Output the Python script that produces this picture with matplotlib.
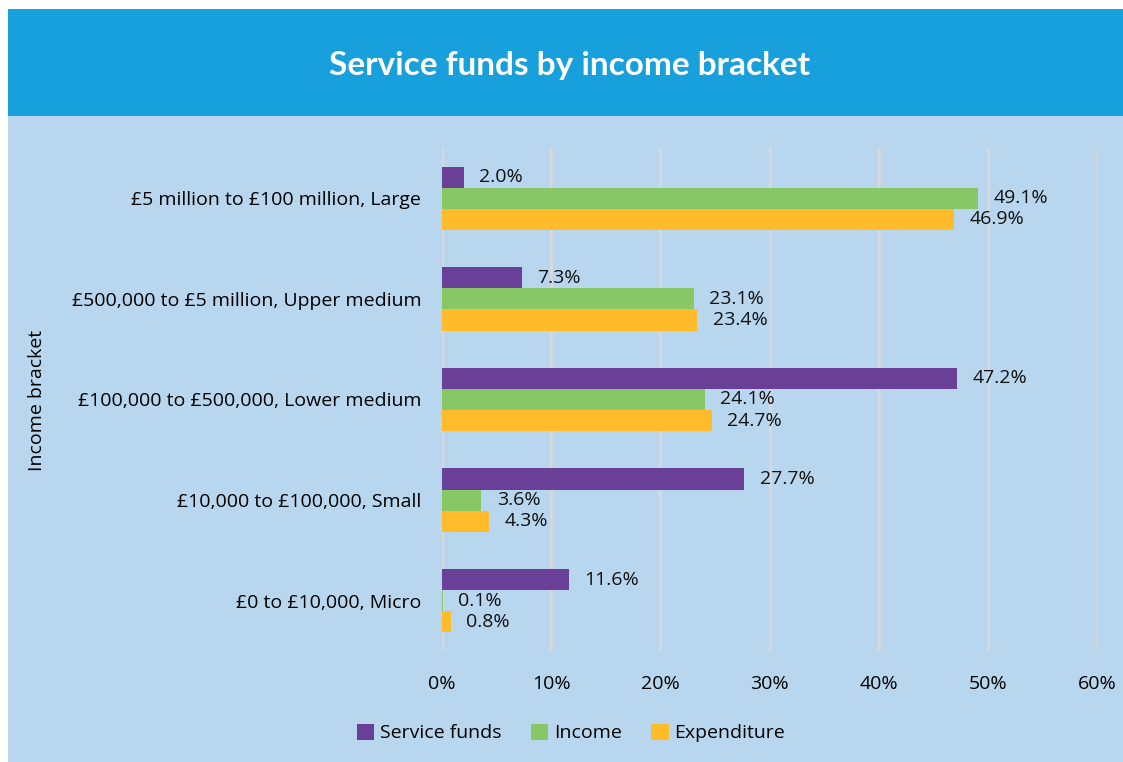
import matplotlib.pyplot as plt
import numpy as np
from matplotlib.patches import Rectangle

# Data (bottom to top as drawn)
brackets = [
    "£0 to £10,000, Micro",
    "£10,000 to £100,000, Small",
    "£100,000 to £500,000, Lower medium",
    "£500,000 to £5 million, Upper medium",
    "£5 million to £100 million, Large",
]
service_funds = [11.6, 27.7, 47.2, 7.3, 2.0]
income = [0.1, 3.6, 24.1, 23.1, 49.1]
expenditure = [0.8, 4.3, 24.7, 23.4, 46.9]
series_names = ["Service funds", "Income", "Expenditure"]
x_ticks = [0, 10, 20, 30, 40, 50, 60]

colors = ["#6A3F98", "#88C766", "#FFBB2A"]
bg = "#B8D7EF"
banner = "#17A0DB"

plt.rcParams["font.family"] = ["Open Sans", "DejaVu Sans"]

W, H = 1123, 762
fig = plt.figure(figsize=(W / 100, H / 100), dpi=100, facecolor="white")

# panel background and title banner
fig.patches.append(Rectangle((8 / W, 0), 1 - 8 / W, 1 - 9 / H, transform=fig.transFigure,
                             facecolor=bg, edgecolor="none", zorder=-2))
fig.patches.append(Rectangle((8 / W, 1 - 116 / H), 1 - 8 / W, (116 - 9) / H, transform=fig.transFigure,
                             facecolor=banner, edgecolor="none", zorder=-1))
fig.text(570 / W, 1 - 66 / H, "Service funds by income bracket", color="white",
         fontsize=24, fontweight="bold", ha="center", va="center", family=["Lato", "DejaVu Sans"])

ax = fig.add_axes([442 / W, 1 - 651 / H, (1097 - 442) / W, (651 - 148) / H])
ax.set_facecolor("none")

y = np.arange(len(brackets))
bh = 0.21
data = [service_funds, income, expenditure]
offsets = [bh, 0, -bh]
for vals, off, col, name in zip(data, offsets, colors, series_names):
    ax.barh(y + off, vals, height=bh, color=col, label=name, zorder=3)
    for yy, v in zip(y + off, vals):
        ax.text(v + 1.4, yy, f"{v:.1f}%", va="center", ha="left", fontsize=14, color="#111111")

ax.set_xlim(0, 60)
ax.set_ylim(-0.5, len(brackets) - 0.5)
ax.set_xticks(x_ticks)
ax.set_xticklabels([f"{t}%" for t in x_ticks], fontsize=14)
ax.set_yticks(y)
ax.set_yticklabels(brackets, fontsize=14)
ax.tick_params(length=0, pad=15, axis="y")
ax.tick_params(length=0, pad=17, axis="x")
ax.grid(axis="x", color="#D9D9D9", linewidth=2, zorder=0)
for s in ax.spines.values():
    s.set_visible(False)

fig.text(37 / W, 1 - 400 / H, "Income bracket", rotation=90, ha="center", va="center", fontsize=14)

fig.legend(loc="center", bbox_to_anchor=(571 / W, 1 - 733 / H), ncol=3, frameon=False,
           fontsize=14, handlelength=0.9, handleheight=0.9, handletextpad=0.3, columnspacing=1.5)

fig.savefig("out.png", dpi=100, facecolor="white")
